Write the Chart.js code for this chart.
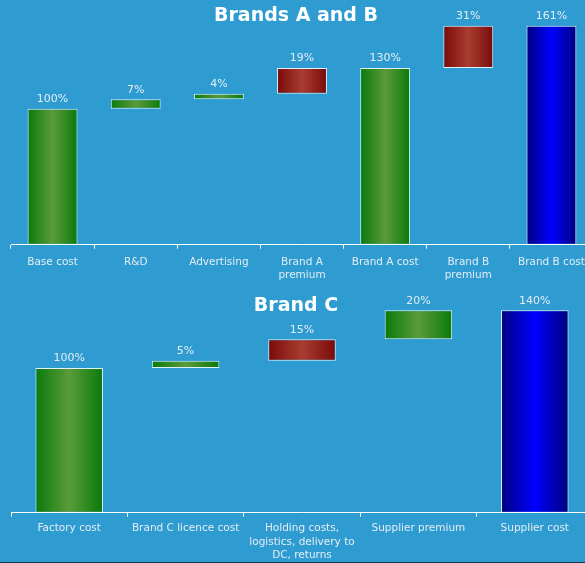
<!DOCTYPE html>
<html>
<head>
<meta charset="utf-8">
<script src="https://cdn.jsdelivr.net/npm/chart.js@4.4.1/dist/chart.umd.min.js"></script>
<style>
  html { margin: 0; background: #1d3446; }
  body { margin: 0; width: 585px; height: 562px; overflow: hidden; background: #2e9bd1; }
  .wrap { position: relative; width: 600px; }
  canvas { display: block; }
</style>
</head>
<body>
<div class="wrap" style="height:290px"><canvas id="chartAB" width="600" height="290"></canvas></div>
<div class="wrap" style="height:278px"><canvas id="chartC" width="600" height="278"></canvas></div>
<script>
// Brands A and B waterfall
const ab_labels = ['Base cost', 'R&D', 'Advertising', ['Brand A', 'premium'], 'Brand A cost', ['Brand B', 'premium'], 'Brand B cost'];
const ab_start = [0, 100, 107, 111, 0, 130, 0];
const ab_end = [100, 107, 111, 130, 130, 161, 161];
const ab_text = ['100%', '7%', '4%', '19%', '130%', '31%', '161%'];
const ab_kind = ['green', 'green', 'green', 'red', 'green', 'red', 'blue'];

// Brand C waterfall
const c_labels = ['Factory cost', 'Brand C licence cost', ['Holding costs,', 'logistics, delivery to', 'DC, returns'], 'Supplier premium', 'Supplier cost'];
const c_start = [0, 100, 105, 120, 0];
const c_end = [100, 105, 120, 140, 140];
const c_text = ['100%', '5%', '15%', '20%', '140%'];
const c_kind = ['green', 'green', 'red', 'green', 'blue'];

const shades = {
    green: ['#0a7a0a', '#5b9b3b'],
    red: ['#7a0a0a', '#a93d30'],
    blue: ['#00007e', '#0000ff']
};

const FONT = 'DejaVu Sans';

// fills each bar with a dark-edge / light-centre horizontal gradient
const barShading = {
    id: 'barShading',
    beforeDatasetsDraw(chart) {
        const ctx = chart.ctx;
        const kinds = chart.options.plugins.barShading.kinds;
        chart.getDatasetMeta(0).data.forEach((bar, i) => {
            const left = bar.x - bar.width / 2;
            const right = bar.x + bar.width / 2;
            const g = ctx.createLinearGradient(left, 0, right, 0);
            const c = shades[kinds[i]];
            g.addColorStop(0, c[0]);
            g.addColorStop(0.5, c[1]);
            g.addColorStop(1, c[0]);
            // options object is shared between bars, so give each its own copy
            bar.options = Object.assign({}, bar.options, { backgroundColor: g });
        });
    }
};

// value text above each bar, plus the chart heading
const barText = {
    id: 'barText',
    afterDatasetsDraw(chart) {
        const ctx = chart.ctx;
        const opts = chart.options.plugins.barText;
        ctx.save();
        ctx.fillStyle = '#e4edf4';
        ctx.font = '11px "' + FONT + '"';
        ctx.textAlign = 'center';
        ctx.textBaseline = 'bottom';
        chart.getDatasetMeta(0).data.forEach((bar, i) => {
            ctx.fillText(opts.texts[i], bar.x, Math.min(bar.y, bar.base) - 4);
        });
        ctx.fillStyle = '#ffffff';
        ctx.font = 'bold 19px "' + FONT + '"';
        ctx.textBaseline = 'middle';
        ctx.fillText(opts.heading, 296, opts.headingY);
        ctx.restore();
    }
};

function waterfall(id, labels, start, end, texts, kinds, heading, headingY, yMax, barPct, padBottom, tickPad, lineH) {
    return new Chart(document.getElementById(id), {
        type: 'bar',
        data: {
            labels: labels,
            datasets: [{
                data: start.map((s, i) => [s, end[i]]),
                backgroundColor: '#0a7a0a',
                borderColor: 'rgba(255,255,255,0.85)',
                borderWidth: 1,
                borderSkipped: false,
                barPercentage: barPct,
                categoryPercentage: 1
            }]
        },
        options: {
            responsive: false,
            animation: false,
            layout: { padding: { left: 11, right: 7, top: 0, bottom: padBottom } },
            plugins: {
                legend: { display: false },
                tooltip: { enabled: false },
                title: { display: false },
                barShading: { kinds: kinds },
                barText: { texts: texts, heading: heading, headingY: headingY }
            },
            scales: {
                y: { display: false, min: 0, max: yMax },
                x: {
                    border: { color: '#ffffff', width: 1 },
                    grid: { drawOnChartArea: false, drawTicks: true, tickLength: 4, color: '#ffffff', offset: true },
                    ticks: {
                        color: '#e4edf4',
                        padding: tickPad,
                        maxRotation: 0,
                        autoSkip: false,
                        font: { family: FONT, size: 10.5, lineHeight: lineH }
                    }
                }
            }
        },
        plugins: [barShading, barText]
    });
}

const chartAB = waterfall('chartAB', ab_labels, ab_start, ab_end, ab_text, ab_kind, 'Brands A and B', 16, 180, 0.6, 1, 7, 1.25);
const chartC = waterfall('chartC', c_labels, c_start, c_end, c_text, c_kind, 'Brand C', 16, 154, 0.58, 1, 5, 1.28);
</script>
</body>
</html>
